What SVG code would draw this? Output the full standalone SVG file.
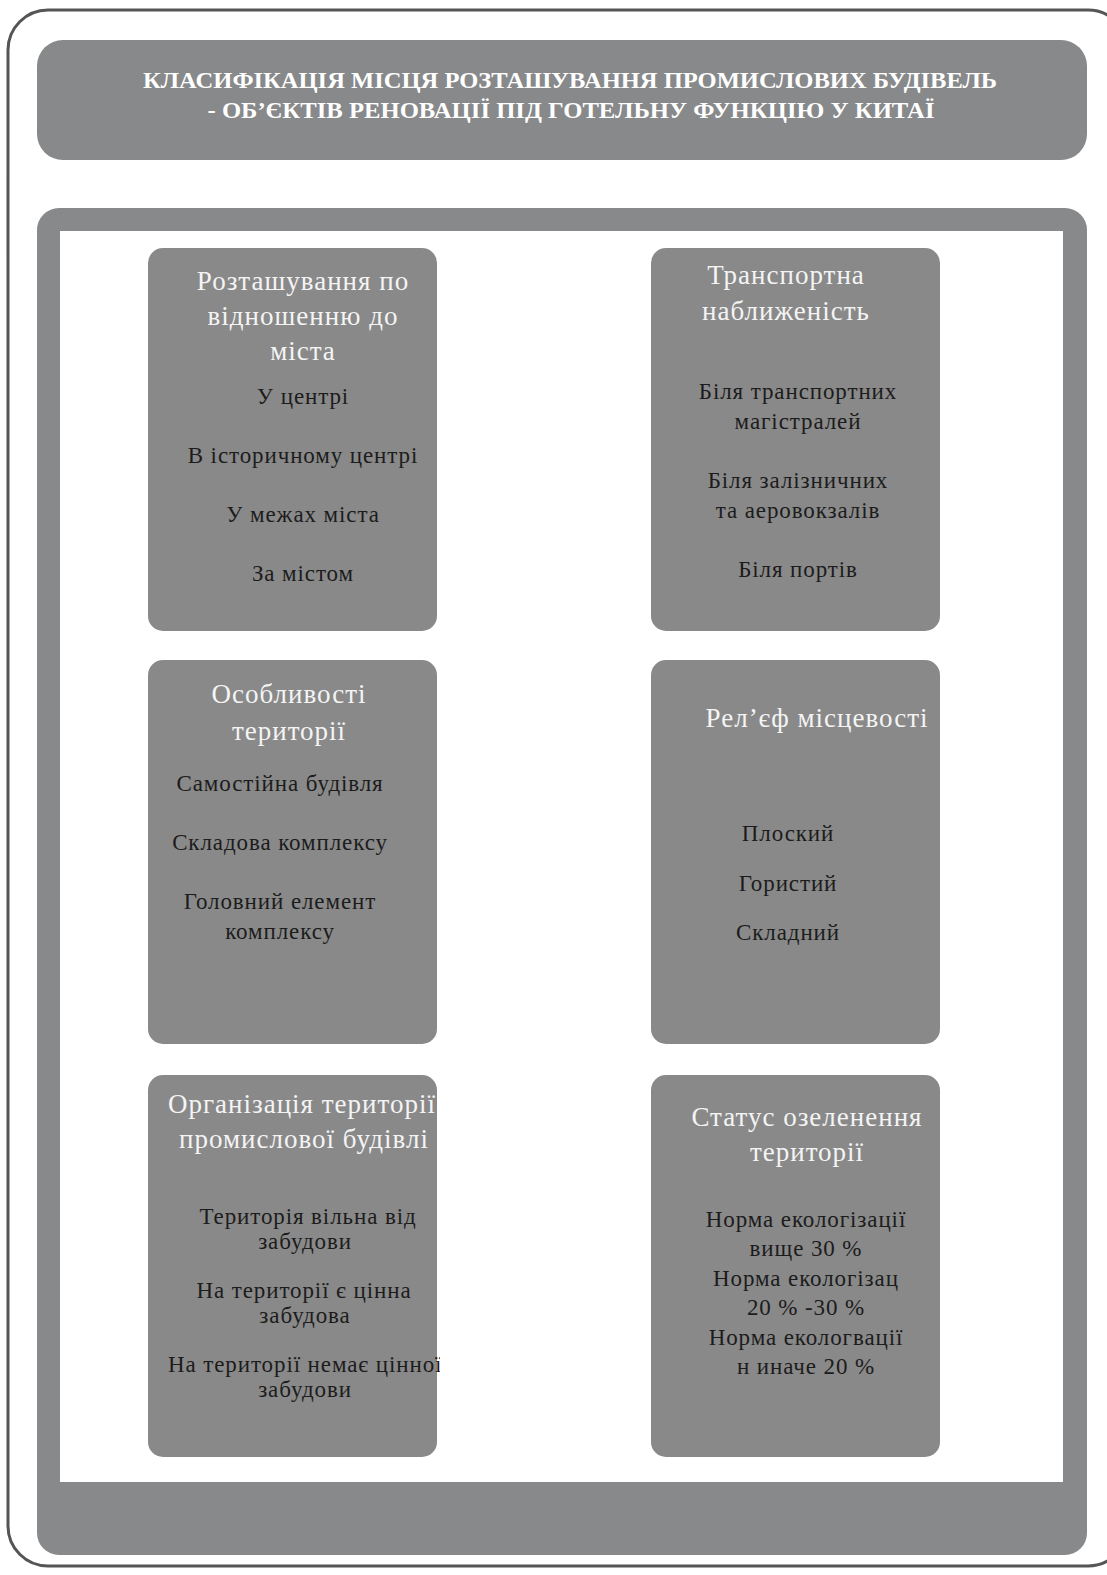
<svg xmlns="http://www.w3.org/2000/svg" width="1107" height="1575" viewBox="0 0 1107 1575">
<style>
.frame{fill:#88898b}
.node{fill:#898989}
.hd{font-family:"Liberation Serif","DejaVu Serif",serif;font-size:27px;letter-spacing:1px;fill:#f4f4f4;text-anchor:middle}
.it{font-family:"Liberation Serif","DejaVu Serif",serif;font-size:23px;letter-spacing:0.9px;fill:#1c1c1c;text-anchor:middle}
.tt{font-family:"Liberation Serif","DejaVu Serif",serif;font-size:23px;font-weight:bold;fill:#ffffff;text-anchor:middle}
</style>
<defs>
<clipPath id="clip5"><rect x="148" y="1075" width="292" height="382" rx="15"/></clipPath>
</defs>
<rect width="1107" height="1575" fill="#ffffff"/>
<rect x="8" y="10" width="1120" height="1556" rx="40" fill="none" stroke="#555555" stroke-width="3"/>
<g id="title">
<rect class="frame" x="37" y="40" width="1050" height="120" rx="26"/>
<text class="tt" x="570" y="88" textLength="854" lengthAdjust="spacingAndGlyphs">КЛАСИФІКАЦІЯ МІСЦЯ РОЗТАШУВАННЯ ПРОМИСЛОВИХ БУДІВЕЛЬ</text>
<text class="tt" x="571" y="118" textLength="727" lengthAdjust="spacingAndGlyphs">- ОБ’ЄКТІВ РЕНОВАЦІЇ ПІД ГОТЕЛЬНУ ФУНКЦІЮ У КИТАЇ</text>
</g>
<g id="container">
<rect class="frame" x="37" y="208" width="1050" height="1347" rx="22"/>
<rect x="60" y="231" width="1003" height="1251" fill="#ffffff"/>
</g>
<g id="node-location">
<rect class="node" x="148" y="248" width="289" height="383" rx="15"/>
<text class="hd" x="303" y="290">Розташування по</text>
<text class="hd" x="303" y="325">відношенню до</text>
<text class="hd" x="303" y="360">міста</text>
<text class="it" x="303" y="404">У центрі</text>
<text class="it" x="303" y="463">В історичному центрі</text>
<text class="it" x="303" y="522">У межах міста</text>
<text class="it" x="303" y="581">За містом</text>
</g>
<g id="node-transport">
<rect class="node" x="651" y="248" width="289" height="383" rx="15"/>
<text class="hd" x="786" y="284">Транспортна</text>
<text class="hd" x="786" y="320">наближеність</text>
<text class="it" x="798" y="399">Біля транспортних</text>
<text class="it" x="798" y="429">магістралей</text>
<text class="it" x="798" y="488">Біля залізничних</text>
<text class="it" x="798" y="518">та аеровокзалів</text>
<text class="it" x="798" y="577">Біля портів</text>
</g>
<g id="node-territory">
<rect class="node" x="148" y="660" width="289" height="384" rx="15"/>
<text class="hd" x="289" y="703">Особливості</text>
<text class="hd" x="289" y="740">території</text>
<text class="it" x="280" y="791">Самостійна будівля</text>
<text class="it" x="280" y="850">Складова комплексу</text>
<text class="it" x="280" y="909">Головний елемент</text>
<text class="it" x="280" y="939">комплексу</text>
</g>
<g id="node-relief">
<rect class="node" x="651" y="660" width="289" height="384" rx="15"/>
<text class="hd" x="817" y="727">Рел’єф місцевості</text>
<text class="it" x="788" y="841">Плоский</text>
<text class="it" x="788" y="891">Гористий</text>
<text class="it" x="788" y="940">Складний</text>
</g>
<g id="node-organization">
<rect class="node" x="148" y="1075" width="289" height="382" rx="15"/>
<g clip-path="url(#clip5)">
<text class="hd" x="168" y="1113" style="text-anchor:start">Організація території</text>
<text class="hd" x="304" y="1148">промислової будівлі</text>
<text class="it" x="308" y="1224">Територія вільна від</text>
<text class="it" x="305" y="1249">забудови</text>
<text class="it" x="304" y="1298">На території є цінна</text>
<text class="it" x="305" y="1323">забудова</text>
<text class="it" x="168" y="1372" style="text-anchor:start">На території немає цінної</text>
<text class="it" x="305" y="1397">забудови</text>
</g>
</g>
<g id="node-greening">
<rect class="node" x="651" y="1075" width="289" height="382" rx="15"/>
<text class="hd" x="807" y="1126">Статус озеленення</text>
<text class="hd" x="807" y="1161">території</text>
<text class="it" x="806" y="1227">Норма екологізації</text>
<text class="it" x="806" y="1256">вище 30 %</text>
<text class="it" x="806" y="1286">Норма екологізац</text>
<text class="it" x="806" y="1315">20 % -30 %</text>
<text class="it" x="806" y="1345">Норма екологвації</text>
<text class="it" x="806" y="1374">н иначе 20 %</text>
</g>
<g id="connectors"/>
</svg>
